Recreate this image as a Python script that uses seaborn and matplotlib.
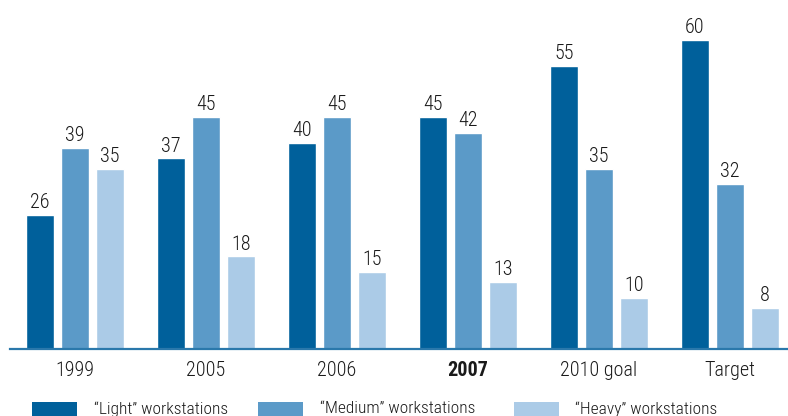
import matplotlib
matplotlib.use("Agg")
import matplotlib.pyplot as plt
from matplotlib.patches import Rectangle
import seaborn as sns
import pandas as pd

categories = ["1999", "2005", "2006", "2007", "2010 goal", "Target"]
series_names = ["\u201cLight\u201d workstations", "\u201cMedium\u201d workstations", "\u201cHeavy\u201d workstations"]
light = [26, 37, 40, 45, 55, 60]
medium = [39, 45, 45, 42, 35, 32]
heavy = [35, 18, 15, 13, 10, 8]
colors = ["#00609b", "#5b9ac8", "#abcbe7"]

sns.set_theme(style="white")
plt.rcParams["font.family"] = ["Roboto Condensed", "DejaVu Sans"]
plt.rcParams["font.weight"] = "light"

rows = []
for s, vals in zip(series_names, [light, medium, heavy]):
    for c, v in zip(categories, vals):
        rows.append({"cat": c, "series": s, "value": v})
df = pd.DataFrame(rows)

W, H = 788, 416
fig = plt.figure(figsize=(W / 100, H / 100), dpi=100)
ax = fig.add_axes([10 / W, 67 / H, 778 / W, 349 / H])
sns.barplot(data=df, x="cat", y="value", hue="series", order=categories,
            hue_order=series_names, palette=colors, width=0.8, gap=0.2,
            saturation=1, legend=False, ax=ax)
for cont in ax.containers:
    ax.bar_label(cont, padding=2, fontsize=14.5, color="#1a1a1a", fontweight="light")

ax.set_xlim(-0.496, 5.443)
ax.set_ylim(0, 349 / 5.15)
ax.set_xlabel("")
ax.set_ylabel("")
ax.set_yticks([])
for sp in ["left", "right", "top"]:
    ax.spines[sp].set_visible(False)
ax.spines["bottom"].set_color("#2a78ab")
ax.spines["bottom"].set_linewidth(1.6)
ax.tick_params(axis="x", length=0, pad=9, labelsize=14.5, labelcolor="#1a1a1a")
for lbl in ax.get_xticklabels():
    lbl.set_fontweight("bold" if lbl.get_text() == "2007" else "light")

# legend
patch_x = [32, 258, 514]
text_x = [94, 320, 575]
for px, tx, col, name in zip(patch_x, text_x, colors, series_names):
    fig.patches.append(Rectangle((px / W, 0), 45 / W, 14 / H, transform=fig.transFigure,
                                 facecolor=col, edgecolor="none"))
    fig.text(tx / W, 1 - 401 / H, name, fontsize=12.5, color="#1a1a1a", va="top",
             ha="left", fontweight="light")

fig.savefig("out.png", dpi=100)
